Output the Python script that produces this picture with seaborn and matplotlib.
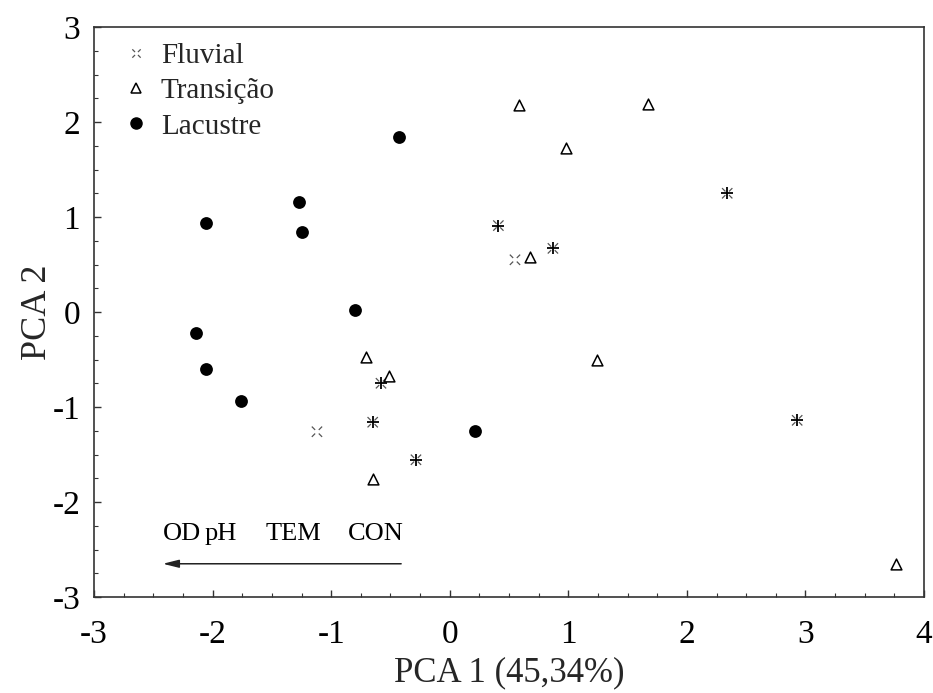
import numpy as np
import pandas as pd
import matplotlib
matplotlib.use("Agg")
import matplotlib.pyplot as plt
from matplotlib.path import Path
from matplotlib.lines import Line2D
from matplotlib.ticker import MultipleLocator
import seaborn as sns

# Scores on the first two principal components
fluvial_x = [0.41, 0.55, 0.87, 2.34, -0.58, -0.65, -1.12, -0.285, 2.93]
fluvial_y = [0.91, 0.55, 0.67, 1.25, -0.75, -1.16, -1.26, -1.555, -1.14]
fluvial_cruz = [True, False, True, True, True, True, False, True, True]

transicao_x = [0.585, 1.67, 0.98, 0.68, 1.24, -0.71, -0.51, -0.65, 3.76]
transicao_y = [2.175, 2.185, 1.73, 0.575, -0.51, -0.47, -0.67, -1.76, -2.65]

lacustre_x = [-0.43, -1.27, -2.06, -1.25, -0.80, -2.14, -2.06, -1.76, 0.21]
lacustre_y = [1.84, 1.155, 0.94, 0.84, 0.02, -0.22, -0.60, -0.94, -1.25]

grupos = ["Fluvial", "Transição", "Lacustre"]

# Loading vector drawn along PCA 1
vetor_inicio = (-0.41, -2.65)
vetor_fim = (-2.42, -2.65)
variaveis = ["OD", "pH", "TEM", "CON"]
variaveis_x = [-2.42, -2.07, -1.55, -0.86]
variaveis_y = -2.34

x_ticks = [-3, -2, -1, 0, 1, 2, 3, 4]
y_ticks = [-3, -2, -1, 0, 1, 2, 3]

sns.set_theme(style="white")
plt.rcParams["font.family"] = ["Liberation Serif", "DejaVu Serif"]

fluv = pd.DataFrame({"x": fluvial_x, "y": fluvial_y, "cruz": fluvial_cruz})
tran = pd.DataFrame({"x": transicao_x, "y": transicao_y})
lacu = pd.DataFrame({"x": lacustre_x, "y": lacustre_y})

# Open "x" marker with a gap at the centre
g = 0.35
x_aberto = Path(
    [(-1, -1), (-g, -g), (g, g), (1, 1), (-1, 1), (-g, g), (g, -g), (1, -1)],
    [Path.MOVETO, Path.LINETO, Path.MOVETO, Path.LINETO,
     Path.MOVETO, Path.LINETO, Path.MOVETO, Path.LINETO],
)

fig = plt.figure(figsize=(9.33, 6.93), dpi=100)
ax = fig.add_axes([0.1008, 0.1385, 0.8896, 0.8225])

sns.scatterplot(data=fluv, x="x", y="y", marker=x_aberto, s=55,
                facecolor="none", edgecolor="#555555", linewidth=0.9, ax=ax)
sns.scatterplot(data=fluv[fluv["cruz"]], x="x", y="y", marker="+", s=75,
                color="black", linewidth=1.3, ax=ax)
sns.scatterplot(data=tran, x="x", y="y", marker="^", s=60,
                facecolor="white", edgecolor="black", linewidth=1.1, ax=ax)
sns.scatterplot(data=lacu, x="x", y="y", marker="o", s=85,
                color="black", edgecolor="black", linewidth=0, ax=ax)

ax.annotate("", xy=vetor_fim, xytext=vetor_inicio,
            arrowprops=dict(arrowstyle="-|>,head_length=0.8,head_width=0.2",
                            color="#222222", lw=1.1, shrinkA=0, shrinkB=0))
for nome, vx in zip(variaveis, variaveis_x):
    ax.text(vx, variaveis_y, nome, ha="left", va="center", fontsize=19,
            color="black")

ax.set_xlim(-3, 4)
ax.set_ylim(-3, 3)
ax.set_xticks(x_ticks)
ax.set_yticks(y_ticks)
ax.set_xticklabels([str(t) for t in x_ticks])
ax.set_yticklabels([str(t) for t in y_ticks])
ax.xaxis.set_minor_locator(MultipleLocator(0.25))
ax.yaxis.set_minor_locator(MultipleLocator(0.25))
ax.tick_params(axis="both", which="major", direction="in", length=5,
               width=1, labelsize=24, colors="#333333", labelcolor="black",
               bottom=True, left=True, top=False, right=False)
ax.tick_params(axis="both", which="minor", direction="in", length=3,
               width=0.8, colors="#333333", bottom=True, left=True,
               top=False, right=False)
ax.tick_params(axis="x", which="major", pad=16)
ax.tick_params(axis="y", which="major", pad=10)

for sp in ax.spines.values():
    sp.set_color("#333333")
    sp.set_linewidth(1.2)

ax.set_xlabel("PCA 1 (45,34%)", fontsize=25, labelpad=5)
ax.set_ylabel("PCA 2", fontsize=26, labelpad=-1)

handles = [
    Line2D([], [], marker=x_aberto, linestyle="none", markersize=6,
           markeredgecolor="#555555", markerfacecolor="none",
           markeredgewidth=0.9),
    Line2D([], [], marker="^", linestyle="none", markersize=7,
           markeredgecolor="black", markerfacecolor="white",
           markeredgewidth=1.1),
    Line2D([], [], marker="o", linestyle="none", markersize=8,
           markeredgecolor="black", markerfacecolor="black"),
]
ax.legend(handles, grupos, loc="upper left", frameon=False, fontsize=21,
          handlelength=0.8, handletextpad=0.45, labelspacing=0.3,
          borderaxespad=0.3, bbox_to_anchor=(0.012, 1.008))

fig.savefig("out.png", dpi=100)
